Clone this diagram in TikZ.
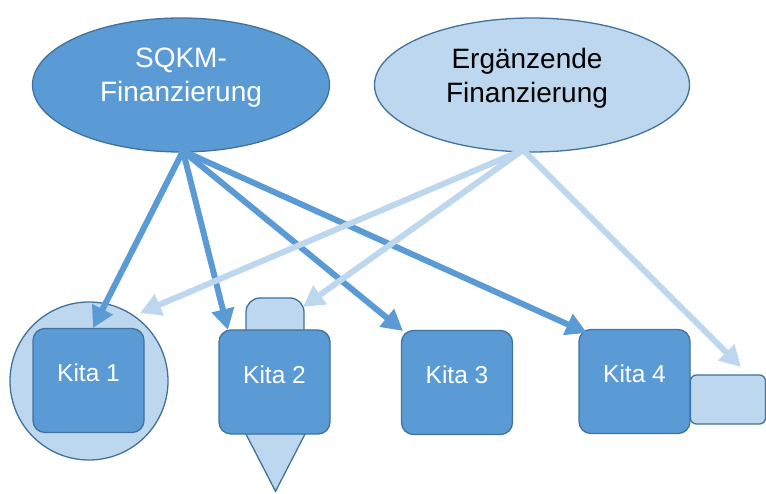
\documentclass[tikz,border=0pt]{standalone}
\usepackage{fontspec}
\setmainfont{Liberation Sans}
\usetikzlibrary{shapes.geometric,arrows.meta}
\definecolor{darkfill}{HTML}{5B9BD5}
\definecolor{lightfill}{HTML}{BDD7EE}
\definecolor{edge}{HTML}{41719C}
\tikzset{
  darkshape/.style={fill=darkfill,draw=edge,line width=1.3pt},
  lightshape/.style={fill=lightfill,draw=edge,line width=1.3pt},
  ellipsebig/.style={ellipse,minimum width=#1,minimum height=134pt,inner sep=0pt},
  ellipsetext/.style={align=center,font=\fontsize{28}{34}\selectfont,inner sep=0pt},
  kitabox/.style={darkshape,rectangle,rounded corners=12pt,minimum width=111pt,minimum height=104pt,inner sep=0pt},
  kitatext/.style={text=white,font=\fontsize{24.5}{28}\selectfont,inner sep=0pt,anchor=base},
  darkarrow/.style={draw=darkfill,line width=6pt,-{Triangle[length=21pt,width=22pt]}},
  lightarrow/.style={draw=lightfill,line width=6pt,-{Triangle[length=21pt,width=22pt]}},
}
\begin{document}
\begin{tikzpicture}[x=1pt,y=-1pt]
\useasboundingbox (0,0) rectangle (766,494);
\clip (0,0) rectangle (766,494);
% ellipses
\node[darkshape,ellipsebig=297pt] (e1) at (181,85) {};
\node[lightshape,ellipsebig=315pt] (e2) at (532,85) {};
\node[ellipsetext,text=white] (t1) at ([yshift=7pt]e1.center) {SQKM-\\Finanzierung};
\node[ellipsetext,text=black] (t2) at ([xshift=-5pt,yshift=7pt]e2.center) {Ergänzende\\Finanzierung};
% Kita 1 with circle
\node[lightshape,circle,minimum size=158pt,inner sep=0pt] (c1) at (89,381) {};
\node[kitabox] (k1) at (88.5,380.5) {};
% Kita 2 with bump and triangle
\node[lightshape,rectangle,rounded corners=14pt,minimum width=58pt,minimum height=50pt,inner sep=0pt] (b2) at (275,323) {};
\node[lightshape,isosceles triangle,shape border rotate=-90,isosceles triangle stretches,minimum width=64pt,minimum height=62pt,inner sep=0pt,anchor=apex] (tr2) at (275.5,493) {};
\node[kitabox] (k2) at (274.5,382) {};
% Kita 3
\node[kitabox] (k3) at (457,382.5) {};
% Kita 4 with side box
\node[lightshape,rectangle,rounded corners=6pt,minimum width=75pt,minimum height=49pt,inner sep=0pt] (s4) at (728,399.5) {};
\node[kitabox] (k4) at (634.5,381.5) {};
% texts
\node[kitatext] (l1) at ([yshift=-1pt]k1.center) {Kita 1};
\node[kitatext] (l2) at ([yshift=-1pt]k2.center) {Kita 2};
\node[kitatext] (l3) at ([yshift=-1pt]k3.center) {Kita 3};
\node[kitatext] (l4) at ([yshift=-1pt]k4.center) {Kita 4};
% arrow sources and tips
\coordinate (so1) at (183,151);
\coordinate (so2) at (523,150);
\coordinate (d1) at (93,328);
\coordinate (d2) at (228,330);
\coordinate (d3) at (403,331);
\coordinate (d4) at (587,333);
\coordinate (g1) at (140,313);
\coordinate (g2) at (303,307);
\coordinate (g3) at (741,367);
% dark arrows
\draw[darkarrow] (so1) -- (d1);
\draw[darkarrow] (so1) -- (d2);
\draw[darkarrow] (so1) -- (d3);
\draw[darkarrow] (so1) -- (d4);
% light arrows
\draw[lightarrow] (so2) -- (g1);
\draw[lightarrow] (so2) -- (g2);
\draw[lightarrow] (so2) -- (g3);
\end{tikzpicture}
\end{document}
